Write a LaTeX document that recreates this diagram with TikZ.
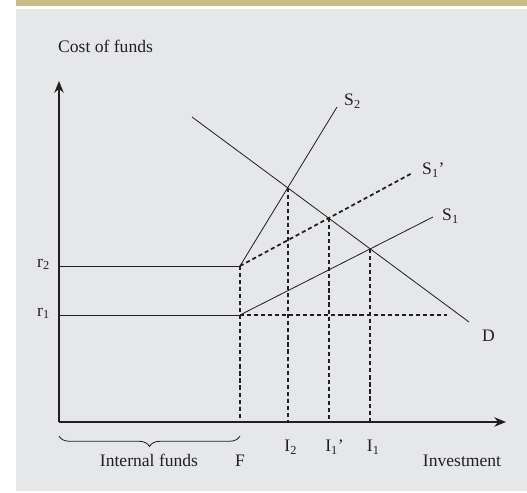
\documentclass[tikz,border=0pt]{standalone}
\usepackage{fontspec}
\setmainfont{Liberation Serif}
\usetikzlibrary{arrows.meta,positioning,decorations.pathreplacing,intersections}
\definecolor{panelgray}{HTML}{E6E7E9}
\definecolor{bargold}{HTML}{C9BC84}
\definecolor{ink}{HTML}{231F20}

\begin{document}
\begin{tikzpicture}[>={Stealth[length=10pt,width=8pt]}, font=\fontsize{15}{18}\selectfont,
  axis/.style={ink, line width=1.7pt},
  curve/.style={ink, line width=0.7pt},
  guide/.style={ink, line width=1.5pt, dash pattern=on 3.5pt off 2.5pt},
  lbl/.style={inner sep=0pt, text=ink, anchor=base west}]
\path[use as bounding box] (-1.77,-2.13) rectangle (14.04,12.66);
\fill[bargold] (-1.29,12.465) rectangle (14.04,12.66);
\fill[panelgray] (-1.29,-2.07) rectangle (14.04,12.375);
% points of the diagram
\coordinate (O) at (0,0);
\coordinate (Ytop) at (0,10.23);
\coordinate (Xend) at (13.41,0);
\coordinate (R2) at (0,4.68);
\coordinate (R1) at (0,3.21);
\coordinate (K2) at (5.43,4.68);
\coordinate (K1) at (5.43,3.21);
\coordinate (F) at (5.43,0);
\coordinate (S2end) at (8.34,9.45);
\coordinate (S1pend) at (10.6,7.47);
\coordinate (S1end) at (11.22,6.15);
\coordinate (Dstart) at (3.99,9.15);
\coordinate (Dend) at (12.3,3.0);
\coordinate (Hend) at (11.64,3.21);
\coordinate (BraceL) at (0,-0.42);
\coordinate (BraceR) at (5.43,-0.42);
% axes
\draw[axis,->] (O) -- (Ytop);
\draw[axis,->] (O) -- (Xend);
% supply and demand
\draw[curve] (R2) -- (K2);
\draw[curve] (R1) -- (K1);
\draw[curve, name path=S2] (K2) -- (S2end);
\draw[guide, name path=S1p] (K2) -- (S1pend);
\draw[curve, name path=S1] (K1) -- (S1end);
\draw[curve, name path=D] (Dstart) -- (Dend);
\draw[guide] (K1) -- (Hend);
\draw[guide] (K2) -- (F);
\path[name intersections={of=S2 and D, by=E2}];
\path[name intersections={of=S1p and D, by=E1p}];
\path[name intersections={of=S1 and D, by=E1}];
\draw[guide] (E2) -- (E2 |- O);
\draw[guide] (E1p) -- (E1p |- O);
\draw[guide] (E1) -- (E1 |- O);
\draw[curve, decorate, decoration={brace, mirror, amplitude=9pt}] (BraceL) -- (BraceR);
% labels
\node[lbl] (costlbl) at (-0.03,11.07) {Cost of funds};
\node[lbl, anchor=base east] (r2lbl) at (-0.27,4.64) {r\textsubscript{2}};
\node[lbl, anchor=base east] (r1lbl) at (-0.27,3.17) {r\textsubscript{1}};
\node[lbl] (s2lbl) at (8.55,9.48) {S\textsubscript{2}};
\node[lbl] (s1plbl) at (10.89,7.41) {S\textsubscript{1}’};
\node[lbl] (s1lbl) at (11.49,6.03) {S\textsubscript{1}};
\node[lbl] (dlbl) at (12.69,2.4) {D};
\node[lbl, xshift=-3pt, yshift=-0.9cm] (i2lbl) at (E2 |- O) {I\textsubscript{2}};
\node[lbl, xshift=-3pt, yshift=-0.9cm] (i1plbl) at (E1p |- O) {I\textsubscript{1}’};
\node[lbl, xshift=-3pt, yshift=-0.9cm] (i1lbl) at (E1 |- O) {I\textsubscript{1}};
\node[lbl, anchor=base, yshift=-1.35cm] (flbl) at (F) {F};
\node[lbl, anchor=base] (funds) at (2.7,-1.35) {Internal funds};
\node[lbl, anchor=base] (invest) at (12.09,-1.35) {Investment};
\end{tikzpicture}
\end{document}
